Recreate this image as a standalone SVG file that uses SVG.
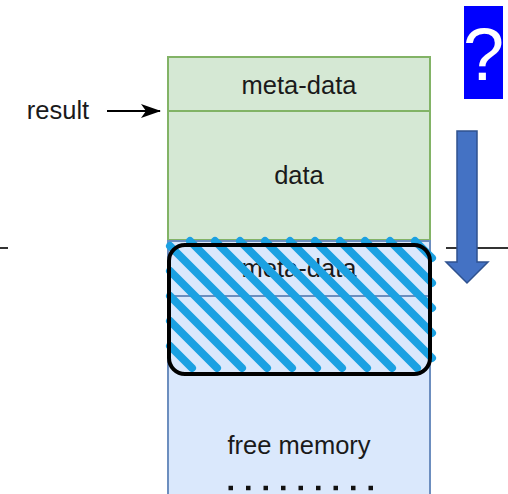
<svg xmlns="http://www.w3.org/2000/svg" width="508" height="494" viewBox="0 0 508 494">
  <style>
    .lbl { font-family: "Liberation Sans", Arial, sans-serif; font-size: 25.5px; fill: #1a1a1a; text-anchor: middle; }
    .green { fill: #d5e8d4; stroke: #82b366; stroke-width: 2; }
    .blue { fill: #dae8fc; stroke: #6c8ebf; stroke-width: 2; }
    .hatch line { stroke: #1ba1e2; stroke-width: 8; stroke-linecap: round; }
    .rule { stroke: #333333; stroke-width: 2; }
  </style>
  <defs>
    <marker id="arrowhead" viewBox="0 0 20 14" refX="19" refY="7" markerWidth="20" markerHeight="14" markerUnits="userSpaceOnUse" orient="auto">
      <path d="M0,0 L20,7 L0,14 L5,7 Z" fill="#000"/>
    </marker>
  </defs>
  <rect width="508" height="494" fill="#ffffff"/>

  <!-- separator fragments -->
  <g id="separator">
    <line class="rule" x1="0" y1="248" x2="8" y2="248"/>
    <line class="rule" x1="446" y1="248" x2="508" y2="248"/>
  </g>

  <!-- allocated block -->
  <g id="block-meta">
    <rect class="green" x="168" y="57" width="262" height="54"/>
    <text class="lbl" x="299" y="94">meta-data</text>
  </g>
  <g id="block-data">
    <rect class="green" x="168" y="111" width="262" height="129"/>
    <text class="lbl" x="299" y="184">data</text>
  </g>

  <!-- free region -->
  <g id="free-meta">
    <rect class="blue" x="168" y="241" width="262" height="55"/>
    <text class="lbl" x="299" y="277">meta-data</text>
  </g>
  <g id="free-memory">
    <rect class="blue" x="168" y="296" width="262" height="210"/>
    <text class="lbl" x="299" y="454">free memory</text>
    <line x1="228.5" y1="488" x2="373" y2="488" stroke="#111" stroke-width="4.5" stroke-dasharray="4.5 13"/>
  </g>

  <!-- hatched selection over the new meta-data -->
  <g id="selection">
    <g class="hatch">
      <line x1="170" y1="346" x2="192" y2="368"/>
      <line x1="170" y1="321" x2="217" y2="368"/>
      <line x1="170" y1="296" x2="242" y2="368"/>
      <line x1="170" y1="271" x2="267" y2="368"/>
      <line x1="170" y1="246" x2="292" y2="368"/>
      <line x1="190" y1="241" x2="317" y2="368"/>
      <line x1="215" y1="241" x2="342" y2="368"/>
      <line x1="240" y1="241" x2="367" y2="368"/>
      <line x1="265" y1="241" x2="392" y2="368"/>
      <line x1="290" y1="241" x2="417" y2="368"/>
      <line x1="315" y1="241" x2="432" y2="358"/>
      <line x1="340" y1="241" x2="432" y2="333"/>
      <line x1="365" y1="241" x2="432" y2="308"/>
      <line x1="390" y1="241" x2="432" y2="283"/>
      <line x1="415" y1="241" x2="432" y2="258"/>
    </g>
    <rect x="169" y="245" width="261" height="129" rx="16" fill="none" stroke="#000" stroke-width="4"/>
  </g>

  <!-- pointer label -->
  <g id="result">
    <text class="lbl" x="58" y="119">result</text>
  </g>

  <!-- question badge -->
  <g id="question">
    <rect x="464" y="6" width="39" height="93" fill="#0000ff"/>
    <text x="483.5" y="80" font-family="Liberation Sans, Arial, sans-serif" font-size="74" fill="#ffffff" text-anchor="middle">?</text>
  </g>

  <!-- direction arrow -->
  <g id="down-arrow">
    <path d="M457,131 L477,131 L477,262 L488,262 L467,283 L446,262 L457,262 Z" fill="#4472c4" stroke="#2f528f" stroke-width="1.5" stroke-linejoin="miter"/>
  </g>

  <g id="connectors">
    <line x1="107" y1="111" x2="160" y2="111" stroke="#000" stroke-width="2" marker-end="url(#arrowhead)"/>
  </g>
</svg>
